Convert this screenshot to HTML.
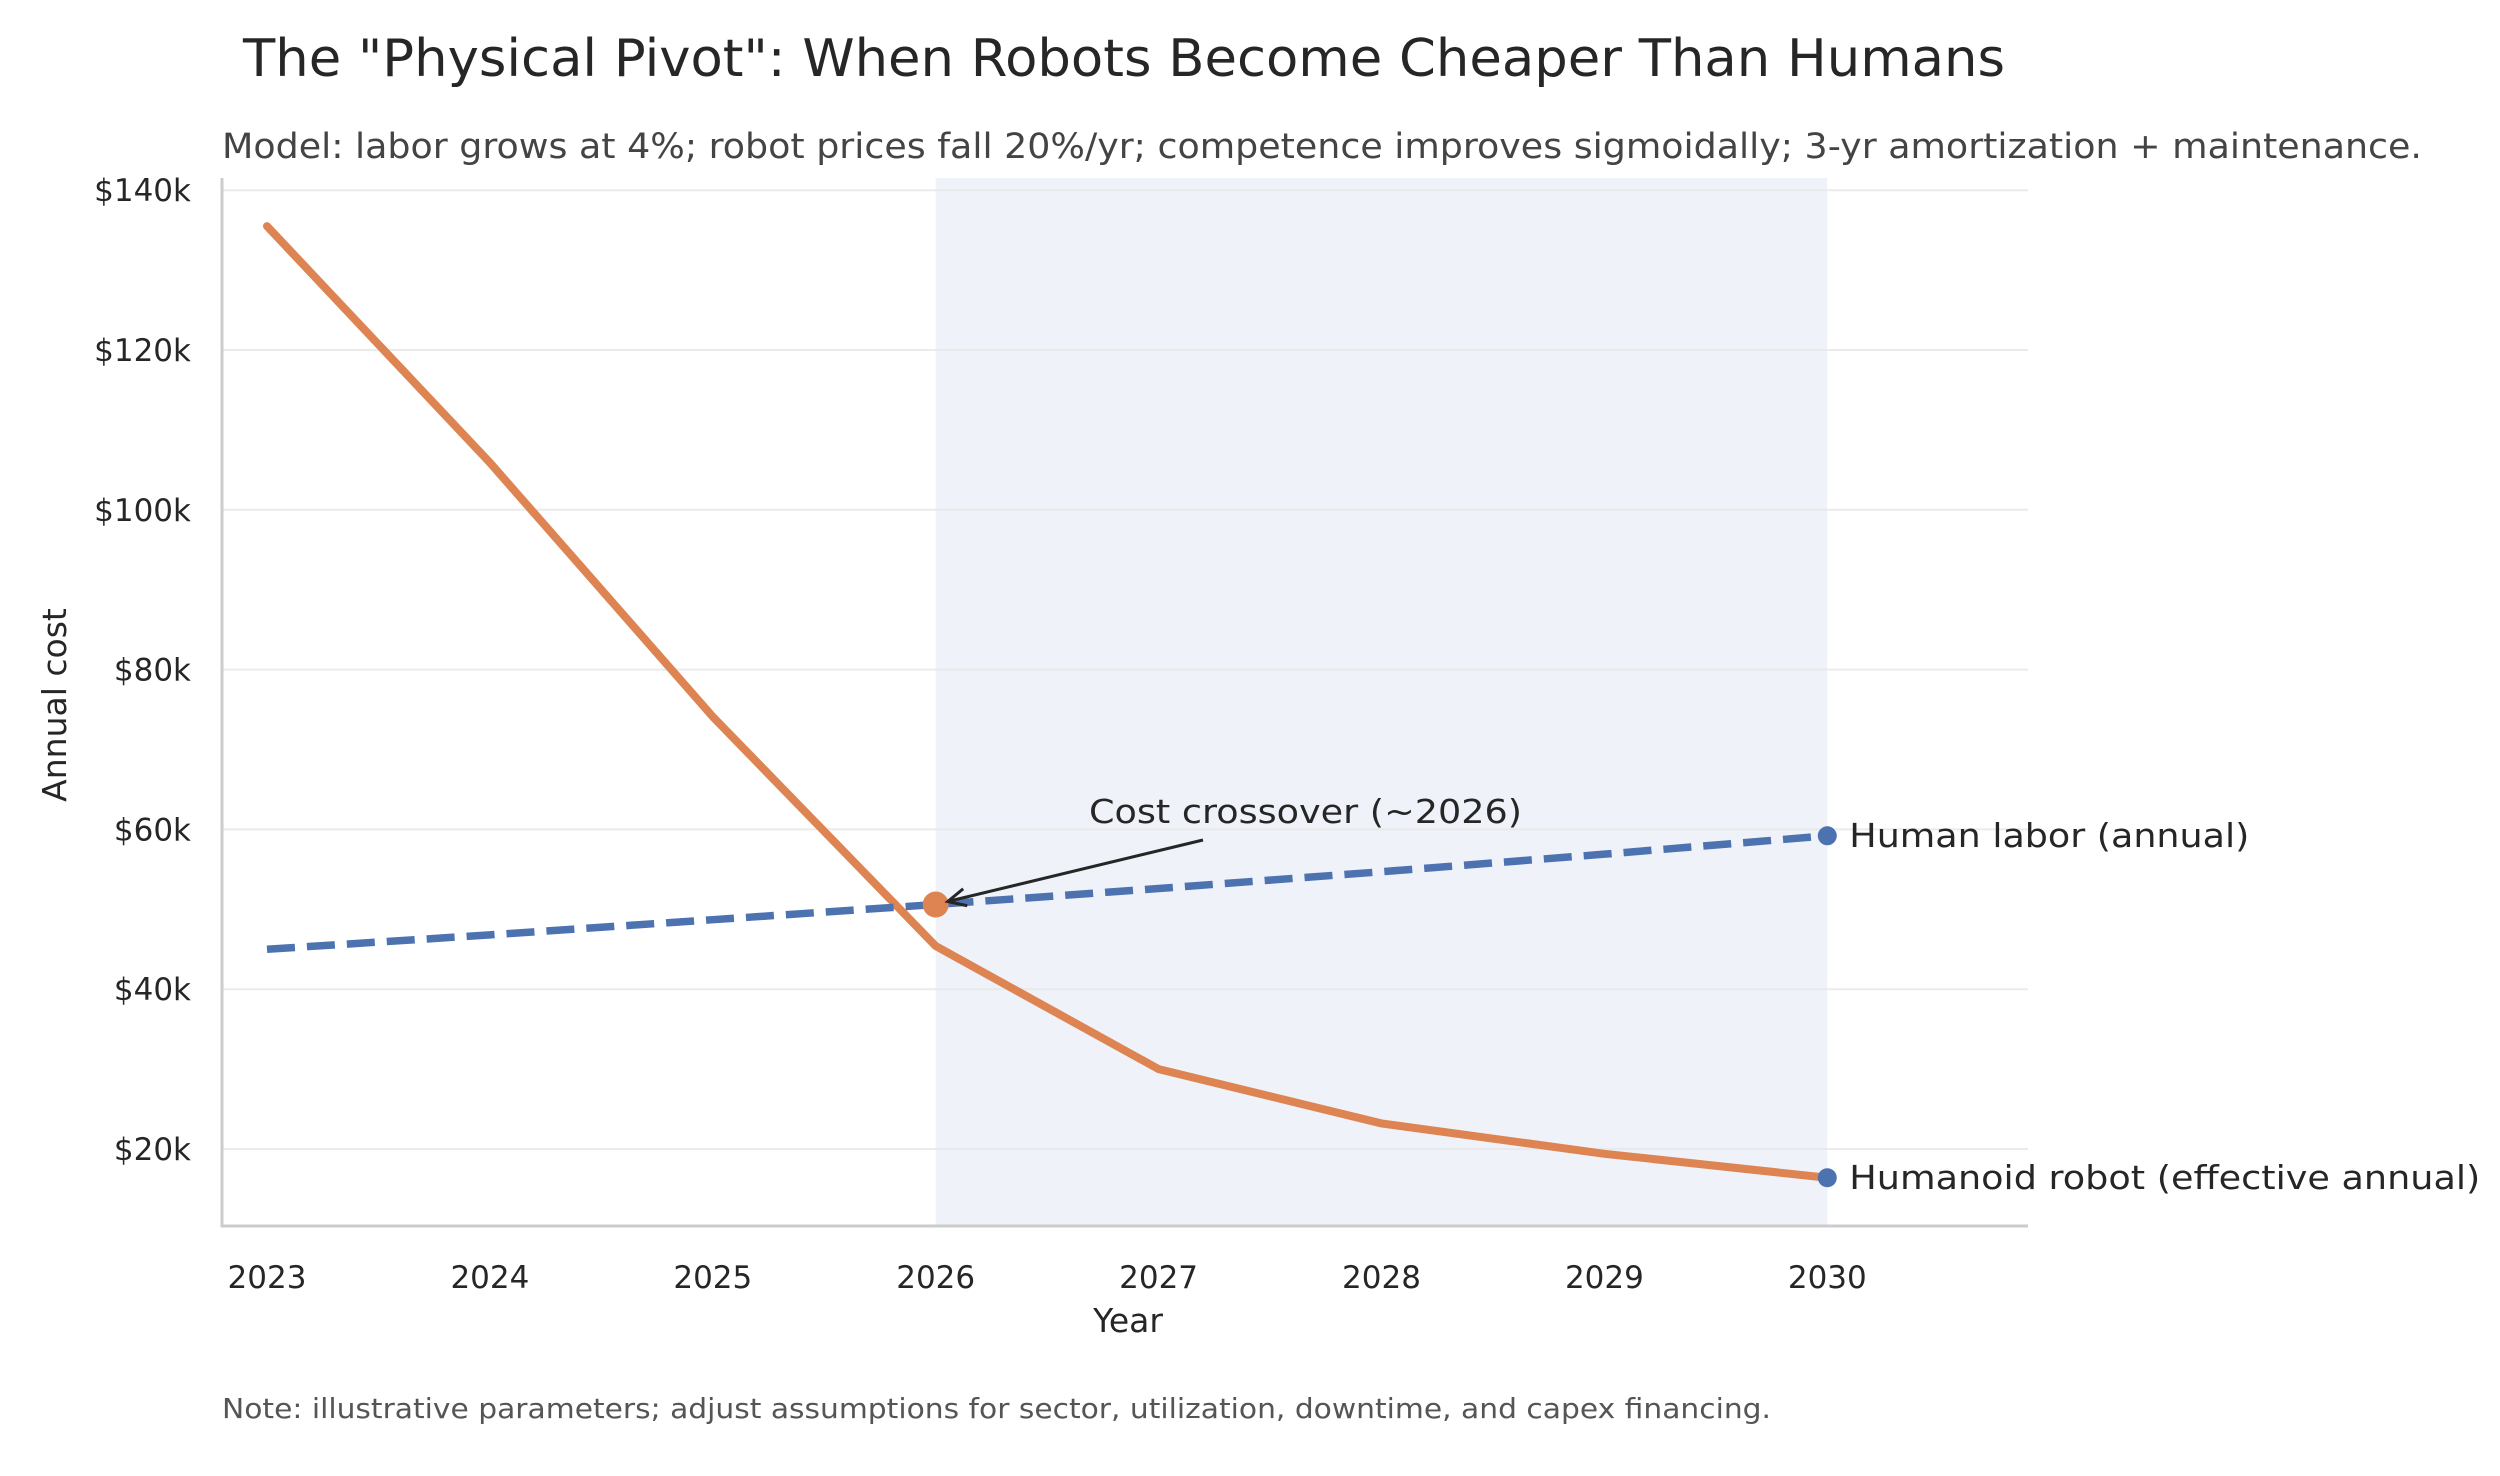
<!DOCTYPE html>
<html><head><meta charset="utf-8"><style>
html,body{margin:0;padding:0;background:#fff;}
svg{display:block;font-family:"DejaVu Sans","Liberation Sans",sans-serif;}
</style></head><body>
<svg id="chart" width="2500" height="1476" viewBox="0 0 2500 1476" xmlns="http://www.w3.org/2000/svg">
<rect width="2500" height="1476" fill="#fff"/>
<text x="243" y="76" font-size="52" fill="#262626" textLength="1762" lengthAdjust="spacingAndGlyphs">The "Physical Pivot": When Robots Become Cheaper Than Humans</text>
<text x="222" y="158" font-size="35" fill="#444" textLength="2200" lengthAdjust="spacingAndGlyphs">Model: labor grows at 4%; robot prices fall 20%/yr; competence improves sigmoidally; 3-yr amortization + maintenance.</text>
<g id="plot"></g>
<text x="1128" y="1332" font-size="33" fill="#262626" text-anchor="middle">Year</text>
<text transform="translate(66,705) rotate(-90)" font-size="33" fill="#262626" text-anchor="middle">Annual cost</text>
<text x="222" y="1418" font-size="28" fill="#555" textLength="1549" lengthAdjust="spacingAndGlyphs">Note: illustrative parameters; adjust assumptions for sector, utilization, downtime, and capex financing.</text>
</svg>
<script>
const years = [2023, 2024, 2025, 2026, 2027, 2028, 2029, 2030];
const humanCost = [45.0, 46.8, 48.7, 50.6, 52.6, 54.7, 56.9, 59.2];
const robotCost = [135.5, 105.9, 74.1, 45.4, 30.0, 23.2, 19.4, 16.4];
const yTicks = [20, 40, 60, 80, 100, 120, 140];
const yTickLabels = ['$20k', '$40k', '$60k', '$80k', '$100k', '$120k', '$140k'];
const crossoverYear = 2026;
const crossoverValue = 50.6;
const shadeStart = 2026, shadeEnd = 2030;

const NS = 'http://www.w3.org/2000/svg';
const L = 222, R = 2028, T = 178, B = 1226;
const x = yr => 267 + (yr - 2023) * 222.9;
const y = v => 1149 - (v - 20) * 7.99;
const g = document.getElementById('plot');
function mk(tag, attrs) {
  const e = document.createElementNS(NS, tag);
  for (const k in attrs) e.setAttribute(k, attrs[k]);
  g.appendChild(e);
  return e;
}
let e;
e = mk('rect', {x: x(shadeStart), y: T, width: x(shadeEnd) - x(shadeStart), height: B - T, fill: '#eff2f8'});


yTicks.forEach((v, i) => {
  let gl = mk('line', {x1: L, x2: R, y1: y(v), y2: y(v), stroke: '#e6e6e6', 'stroke-width': 2, 'stroke-opacity': 0.8});
  
  
  let t = mk('text', {x: 191, y: y(v) + 11, 'font-size': 31, fill: '#262626', 'text-anchor': 'end'});
  t.textContent = yTickLabels[i];
  
  
});
years.forEach(yr => {
  let t = mk('text', {x: x(yr), y: 1288, 'font-size': 31, fill: '#262626', 'text-anchor': 'middle'});
  t.textContent = String(yr);
  
  
});
e = mk('line', {x1: L, x2: L, y1: T, y2: B + 1.5, stroke: '#cccccc', 'stroke-width': 3});


e = mk('line', {x1: L - 1.5, x2: R, y1: B, y2: B, stroke: '#cccccc', 'stroke-width': 3});



const pts = arr => arr.map((v, i) => x(years[i]) + ',' + y(v)).join(' ');
e = mk('polyline', {points: pts(robotCost), fill: 'none', stroke: '#dd8452', 'stroke-width': 8, 'stroke-linejoin': 'round', 'stroke-linecap': 'round'});


e = mk('polyline', {points: pts(humanCost), fill: 'none', stroke: '#4c72b0', 'stroke-width': 7.5, 'stroke-dasharray': '28,12'});



e = mk('circle', {cx: x(crossoverYear), cy: y(crossoverValue), r: 13, fill: '#dd8452'});


const last = years.length - 1;
e = mk('circle', {cx: x(years[last]), cy: y(humanCost[last]), r: 9.5, fill: '#4c72b0'});


e = mk('circle', {cx: x(years[last]), cy: y(robotCost[last]), r: 9.5, fill: '#4c72b0'});



let t = mk('text', {x: x(years[last]) + 22, y: y(humanCost[last]) + 11, 'font-size': 33, fill: '#262626', textLength: 400, lengthAdjust: 'spacingAndGlyphs'});
t.textContent = 'Human labor (annual)';


t = mk('text', {x: x(years[last]) + 22, y: y(robotCost[last]) + 11, 'font-size': 33, fill: '#262626', textLength: 631, lengthAdjust: 'spacingAndGlyphs'});
t.textContent = 'Humanoid robot (effective annual)';



// annotation
const ax = x(crossoverYear) + 12, ay = y(crossoverValue) - 3;
e = mk('line', {x1: 1203, y1: 840, x2: ax, y2: ay, stroke: '#262626', 'stroke-width': 3});


const ang = Math.atan2(840 - ay, 1203 - ax);
const h = 20;
e = mk('polyline', {points: (ax + h*Math.cos(ang+0.45)) + ',' + (ay + h*Math.sin(ang+0.45)) + ' ' + ax + ',' + ay + ' ' + (ax + h*Math.cos(ang-0.45)) + ',' + (ay + h*Math.sin(ang-0.45)), fill: 'none', stroke: '#262626', 'stroke-width': 3});


t = mk('text', {x: 1089, y: 823, 'font-size': 33, fill: '#262626', textLength: 433, lengthAdjust: 'spacingAndGlyphs'});
t.textContent = 'Cost crossover (~2026)';


</script>
</body></html>
